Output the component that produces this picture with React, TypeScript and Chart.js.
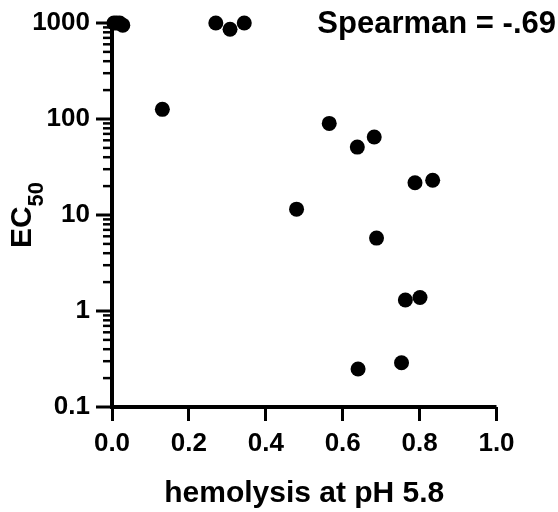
import React, { useEffect, useRef } from "react";
import { Chart, registerables } from "chart.js";

Chart.register(...registerables);

// ---- data ----
const hemolysis = [0.005, 0.012, 0.02, 0.028, 0.27, 0.307, 0.344, 0.131, 0.565, 0.638, 0.682, 0.788, 0.834, 0.48, 0.688, 0.763, 0.801, 0.753, 0.64];
const ec50 = [1000, 1000, 1000, 950, 1000, 860, 1000, 126, 90, 51, 65, 21.7, 23, 11.5, 5.75, 1.3, 1.38, 0.289, 0.249];

const yTickValues = [0.1, 1, 10, 100, 1000];
const yTickLabels = ["0.1", "1", "10", "100", "1000"];
const yMinorMultipliers = [2, 3, 4, 5, 6, 7, 8, 9];
const xTickStep = 0.2;
const annotationText = "Spearman = -.69";
const xTitle = "hemolysis at pH 5.8";
const yTitleMain = "EC";
const yTitleSub = "50";

const FONT = "'Liberation Sans', Arial, Helvetica, sans-serif";

const axesPlugin = {
  id: "prismAxes",
  beforeDatasetsDraw(chart: any) {
    const { ctx, chartArea } = chart;
    const y = chart.scales.y;
    const left = chartArea.left;
    const bottom = chartArea.bottom;
    ctx.save();
    ctx.strokeStyle = "#000";
    ctx.lineCap = "butt";
    ctx.lineWidth = 4;
    ctx.beginPath();
    ctx.moveTo(left, chartArea.top);
    ctx.lineTo(left, bottom + 2);
    ctx.stroke();
    ctx.beginPath();
    ctx.moveTo(left - 2, bottom);
    ctx.lineTo(chartArea.right, bottom);
    ctx.stroke();
    ctx.lineWidth = 3;
    yTickValues.forEach((v) => {
      const py = y.getPixelForValue(v);
      ctx.beginPath();
      ctx.moveTo(left - 16, py);
      ctx.lineTo(left, py);
      ctx.stroke();
    });
    ctx.lineWidth = 2.5;
    for (let i = 0; i < yTickValues.length - 1; i++) {
      yMinorMultipliers.forEach((m) => {
        const py = y.getPixelForValue(yTickValues[i] * m);
        ctx.beginPath();
        ctx.moveTo(left - 9, py);
        ctx.lineTo(left, py);
        ctx.stroke();
      });
    }
    ctx.restore();
  },
  afterDraw(chart: any) {
    const { ctx, chartArea } = chart;
    ctx.save();
    ctx.fillStyle = "#000";
    ctx.font = `bold 31px ${FONT}`;
    ctx.textAlign = "right";
    ctx.textBaseline = "alphabetic";
    ctx.fillText(annotationText, 556, 33);
    const cy = (chartArea.top + chartArea.bottom) / 2;
    ctx.font = `bold 30px ${FONT}`;
    const wMain = ctx.measureText(yTitleMain).width;
    ctx.font = `bold 22px ${FONT}`;
    const wSub = ctx.measureText(yTitleSub).width;
    const total = wMain + wSub;
    ctx.translate(31, cy);
    ctx.rotate(-Math.PI / 2);
    ctx.textAlign = "left";
    ctx.font = `bold 30px ${FONT}`;
    ctx.fillText(yTitleMain, -total / 2, 0);
    ctx.font = `bold 22px ${FONT}`;
    ctx.fillText(yTitleSub, -total / 2 + wMain, 12);
    ctx.restore();
  },
};

export default function App() {
  const ref = useRef<HTMLCanvasElement>(null);
  useEffect(() => {
    document.body.style.margin = "0";
    const canvas = ref.current!;
    const chart = new Chart(canvas, {
      type: "scatter",
      data: {
        datasets: [
          {
            data: hemolysis.map((x, i) => ({ x, y: ec50[i] })),
            pointRadius: 7.5,
            pointHoverRadius: 7.5,
            pointBackgroundColor: "#000",
            pointBorderColor: "#000",
            pointBorderWidth: 0,
            clip: false,
          } as any,
        ],
      },
      options: {
        responsive: false,
        animation: false,
        devicePixelRatio: 1,
        layout: { padding: { left: 0, right: 61.5, top: 23, bottom: 0 } },
        plugins: { legend: { display: false }, tooltip: { enabled: false } },
        scales: {
          x: {
            type: "linear",
            min: 0,
            max: 1,
            border: { display: false },
            grid: {
              display: true,
              drawOnChartArea: false,
              drawTicks: true,
              tickLength: 14,
              tickWidth: 3,
              tickColor: "#000",
            },
            ticks: {
              stepSize: xTickStep,
              color: "#000",
              padding: 7,
              maxRotation: 0,
              autoSkip: false,
              font: { family: FONT, size: 26, weight: "bold" },
              callback: (v: any) => Number(v).toFixed(1),
            },
            title: {
              display: true,
              text: xTitle,
              color: "#000",
              font: { family: FONT, size: 30, weight: "bold" },
              padding: { top: 0, bottom: 0 },
            },
            afterFit: (s: any) => {
              s.height = 105;
              s.paddingLeft = 0;
              s.paddingRight = 0;
            },
          },
          y: {
            type: "logarithmic",
            min: 0.1,
            max: 1000,
            border: { display: false },
            grid: { display: false, drawTicks: false },
            ticks: {
              color: "#000",
              padding: 22,
              autoSkip: false,
              font: { family: FONT, size: 26, weight: "bold" },
              callback: (v: any) => {
                const idx = yTickValues.findIndex((t) => Math.abs(t - Number(v)) < 1e-9 * Math.max(1, t));
                return idx >= 0 ? yTickLabels[idx] : "";
              },
            },
            afterFit: (s: any) => {
              s.width = 112;
              s.paddingTop = 0;
              s.paddingBottom = 0;
            },
          },
        },
      } as any,
      plugins: [axesPlugin],
    });
    return () => chart.destroy();
  }, []);
  return (
    <div style={{ position: "absolute", left: 0, top: 0, width: 558, height: 512 }}>
      <canvas ref={ref} width={558} height={512} style={{ display: "block" }} />
    </div>
  );
}
